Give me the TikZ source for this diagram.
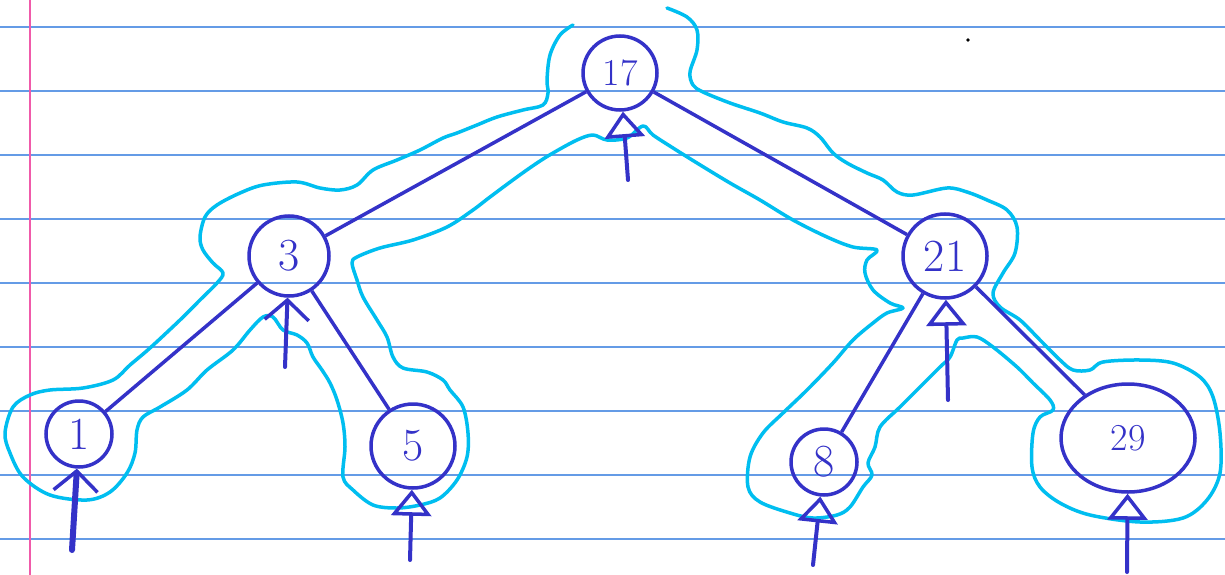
\documentclass[tikz,border=0pt]{standalone}
\usetikzlibrary{arrows.meta,shapes.geometric}
\definecolor{ink}{RGB}{52,50,200}
\definecolor{tour}{RGB}{0,190,240}
\definecolor{rule}{RGB}{100,155,230}
\definecolor{margin}{RGB}{240,90,170}
\tikzset{
  vert/.style={circle,draw=ink,text=ink,line width=3.5pt,inner sep=0pt,
    font=\fontsize{46}{46}\selectfont},
  small/.style={font=\fontsize{38}{38}\selectfont},
  edge/.style={draw=ink,line width=3.5pt},
  up/.style={draw=ink,line width=4pt,line cap=round,
    -{Triangle[open,length=26pt,width=40pt,line width=3.5pt]}},
  barb/.style={draw=ink,line width=4pt,line cap=round,
    -{Straight Barb[length=20pt,width=44pt,line width=3.5pt]}},
}
\begin{document}
\begin{tikzpicture}[x=1pt,y=-1pt]
\useasboundingbox (0,0) rectangle (1225,575);
\fill[white] (0,0) rectangle (1225,575);
% ruled paper
\foreach \y in {27,91,...,539}
  \draw[rule,line width=1.5pt] (0,\y) -- (1225,\y);
\draw[margin,line width=2pt] (30,0) -- (30,575);
\fill[black] (968,40) circle [radius=1.8pt];
% the tour round the tree
\draw[tour,line width=3.5pt,line cap=round,line join=round] plot[smooth,tension=0.55] coordinates {
  (573,25) (560,35) (550,55) (547,80) (548,93) (543,105) (523,110)
  (497,117) (477,125) (457,133) (443,138) (420,150) (397,160) (373,170)
  (357,185) (340,190) (320,188)
  (297,182) (263,185) (240,193) (217,205) (205,217) (200,237) (203,250)
  (213,263) (223,273) (217,283) (200,300) (180,320) (150,348) (130,365)
  (113,380) (83,388) (50,390) (30,395) (13,407) (5,433) (10,453) (23,477)
  (50,495) (87,500) (110,492) (127,473) (135,453) (137,430) (143,417)
  (160,407) (187,390) (207,370) (233,350) (250,330) (263,317) (273,317)
  (283,330) (297,335) (307,343) (313,357) (322,370) (330,383) (337,400)
  (343,423) (345,447) (343,477) (353,490) (373,505) (397,508) (420,505)
  (440,498) (457,480) (467,457) (468,433) (463,407) (450,390) (443,380)
  (427,372) (403,368) (393,357) (387,337) (377,320) (363,297) (357,280)
  (352,263) (357,257) (380,248) (413,240) (447,227) (473,210) (490,197)
  (517,177) (537,163) (553,153) (577,140) (593,135) (607,140) (627,138)
  (643,126) (653,135) (673,148) (697,163) (730,183) (760,200) (793,220)
  (827,237) (853,247) (877,250) (867,260) (865,273) (873,290) (890,303)
  (903,308) (887,313) (873,323) (853,340) (833,363) (807,390) (783,413)
  (763,433) (750,457) (748,487) (760,502) (790,513) (813,518) (837,515)
  (850,507) (863,487) (872,475) (868,463) (875,447) (880,427) (900,407)
  (920,387) (940,367) (950,357) (957,340) (963,338) (977,337) (993,347)
  (1017,367) (1033,383) (1050,400) (1053,410) (1040,417) (1033,433)
  (1032,467) (1040,487) (1060,503) (1090,515) (1140,522) (1183,518)
  (1207,500) (1220,473) (1220,433) (1213,397) (1200,377) (1173,363)
  (1140,360) (1103,362) (1090,370) (1073,370) (1060,360) (1040,340)
  (1020,320) (1000,307) (993,293) (1003,273) (1015,253) (1017,227)
  (1007,210) (987,200) (967,192) (947,188) (913,195) (897,192) (883,180)
  (867,173) (847,163) (833,153) (820,137) (807,128) (783,122) (760,113)
  (730,103) (703,92) (693,85) (690,72) (697,50) (697,30) (687,17) (667,8)};
% tree
\node[vert,small,minimum size=74pt] (n17) at (620,73) {17};
\node[vert,minimum size=80pt] (n3) at (289,256) {3};
\node[vert,minimum size=84pt] (n21) at (945,256) {21};
\node[vert,minimum size=66pt] (n1) at (79,434) {1};
\node[vert,minimum size=84pt] (n5) at (413,446) {5};
\node[vert,minimum size=66pt] (n8) at (824,462) {8};
\node[vert,small,ellipse,minimum width=134pt,minimum height=108pt] (n29) at (1128,438) {29};
\draw[edge] (n17) -- (n3);
\draw[edge] (n17) -- (n21);
\draw[edge] (n3) -- (n1);
\draw[edge] (n3) -- (n5);
\draw[edge] (n21) -- (n8);
\draw[edge] (n21) -- (n29);
% arrows from below
\coordinate (a17) at (628,180);
\coordinate (a3) at (285,367);
\coordinate (a21) at (948,400);
\coordinate (a1) at (72,550);
\coordinate (a5) at (410,560);
\coordinate (a8) at (813,565);
\coordinate (a29) at (1127,572);
\draw[up] (a17) -- (n17);
\draw[barb] (a3) -- (n3);
\draw[up] (a21) -- (n21);
\draw[barb,line width=6pt] (a1) -- (n1);
\draw[up] (a5) -- (n5);
\draw[up] (a8) -- (n8);
\draw[up] (a29) -- (n29);
\end{tikzpicture}
\end{document}
